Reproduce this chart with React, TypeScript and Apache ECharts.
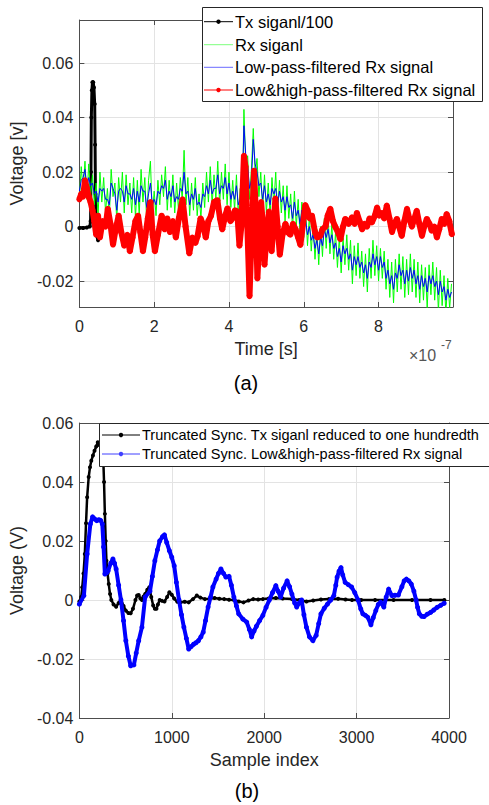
import React, { useEffect, useRef } from 'react';
import * as echarts from 'echarts';

// ---------- (a) top chart: time in units of 1e-7 s ----------
const T_GRID = [
  0, 0.05, 0.1, 0.15, 0.2, 0.25, 0.3, 0.35, 0.4, 0.45, 0.5, 0.55, 0.6, 0.65, 0.7, 0.75, 0.8, 0.85, 0.9, 0.95,
  1, 1.05, 1.1, 1.15, 1.2, 1.25, 1.3, 1.35, 1.4, 1.45, 1.5, 1.55, 1.6, 1.65, 1.7, 1.75, 1.8, 1.85, 1.9, 1.95,
  2, 2.05, 2.1, 2.15, 2.2, 2.25, 2.3, 2.35, 2.4, 2.45, 2.5, 2.55, 2.6, 2.65, 2.7, 2.75, 2.8, 2.85, 2.9, 2.95,
  3, 3.05, 3.1, 3.15, 3.2, 3.25, 3.3, 3.35, 3.4, 3.45, 3.5, 3.55, 3.6, 3.65, 3.7, 3.75, 3.8, 3.85, 3.9, 3.95,
  4, 4.05, 4.1, 4.15, 4.2, 4.25, 4.3, 4.35, 4.4, 4.45, 4.5, 4.55, 4.6, 4.65, 4.7, 4.75, 4.8, 4.85, 4.9, 4.95,
  5, 5.05, 5.1, 5.15, 5.2, 5.25, 5.3, 5.35, 5.4, 5.45, 5.5, 5.55, 5.6, 5.65, 5.7, 5.75, 5.8, 5.85, 5.9, 5.95,
  6, 6.05, 6.1, 6.15, 6.2, 6.25, 6.3, 6.35, 6.4, 6.45, 6.5, 6.55, 6.6, 6.65, 6.7, 6.75, 6.8, 6.85, 6.9, 6.95,
  7, 7.05, 7.1, 7.15, 7.2, 7.25, 7.3, 7.35, 7.4, 7.45, 7.5, 7.55, 7.6, 7.65, 7.7, 7.75, 7.8, 7.85, 7.9, 7.95,
  8, 8.05, 8.1, 8.15, 8.2, 8.25, 8.3, 8.35, 8.4, 8.45, 8.5, 8.55, 8.6, 8.65, 8.7, 8.75, 8.8, 8.85, 8.9, 8.95,
  9, 9.05, 9.1, 9.15, 9.2, 9.25, 9.3, 9.35, 9.4, 9.45, 9.5, 9.55, 9.6, 9.65, 9.7, 9.75, 9.8, 9.85, 9.9, 9.95,
];

const RX_SIGNAL = [
  0.010, 0.022, 0.013, 0.024, 0.010, 0.023, 0.011, 0.019, 0.008, 0.016, 0.004, 0.020, 0.009, 0.018, 0.005, 0.014, 0.003, 0.021, 0.011, 0.016,
  0.002, 0.018, 0.009, 0.020, 0.005, 0.019, 0.008, 0.016, 0.005, 0.018, 0.003, 0.017, 0.004, 0.021, 0.009, 0.018, 0.002, 0.017, 0.024, 0.004,
  0.013, 0.004, 0.017, 0.008, 0.019, 0.011, 0.022, 0.006, 0.017, 0.007, 0.019, 0.005, 0.016, 0.006, 0.018, 0.010, 0.028, 0.008, 0.018, 0.004,
  0.016, 0.006, 0.018, 0.004, 0.012, 0.003, 0.016, 0.007, 0.020, 0.009, 0.022, 0.008, 0.019, 0.010, 0.024, 0.008, 0.020, 0.010, 0.023, 0.008,
  0.020, 0.007, 0.017, 0.006, 0.019, 0.004, 0.014, 0.003, 0.043, 0.022, 0.026, 0.010, 0.021, 0.036, 0.019, 0.025, 0.011, 0.020, 0.006, 0.019,
  0.005, 0.016, 0.004, 0.018, 0.008, 0.020, 0.004, 0.017, 0.005, 0.015, 0.002, 0.015, 0.003, 0.012, -0.001, 0.013, 0.000, 0.010, -0.003, 0.009,
  -0.004, 0.006, -0.007, 0.004, -0.009, 0.001, -0.012, -0.001, -0.014, 0.000, -0.011, 0.003, -0.008, 0.004, -0.010, 0.001, -0.012, -0.002, -0.015, -0.004,
  -0.017, -0.004, -0.014, -0.003, -0.016, -0.005, -0.021, -0.007, -0.018, -0.006, -0.019, -0.009, -0.022, -0.010, -0.024, -0.008, -0.019, -0.005, -0.018, -0.007,
  -0.020, -0.008, -0.019, -0.009, -0.023, -0.012, -0.026, -0.013, -0.028, -0.012, -0.024, -0.010, -0.023, -0.011, -0.026, -0.012, -0.025, -0.010, -0.024, -0.012,
  -0.026, -0.013, -0.028, -0.014, -0.027, -0.015, -0.030, -0.014, -0.025, -0.013, -0.027, -0.015, -0.031, -0.016, -0.029, -0.018, -0.032, -0.019, -0.030, -0.021,
];

const LPF_SIGNAL = [
  0.013, 0.017, 0.018, 0.021, 0.014, 0.018, 0.015, 0.016, 0.012, 0.013, 0.009, 0.014, 0.013, 0.014, 0.010, 0.010, 0.008, 0.016, 0.014, 0.012,
  0.006, 0.013, 0.014, 0.013, 0.009, 0.015, 0.012, 0.012, 0.010, 0.014, 0.008, 0.013, 0.009, 0.015, 0.013, 0.013, 0.007, 0.012, 0.016, 0.008,
  0.010, 0.008, 0.013, 0.012, 0.015, 0.014, 0.017, 0.010, 0.013, 0.011, 0.015, 0.009, 0.011, 0.010, 0.014, 0.013, 0.020, 0.012, 0.013, 0.008,
  0.012, 0.010, 0.014, 0.008, 0.009, 0.007, 0.012, 0.011, 0.015, 0.012, 0.017, 0.012, 0.014, 0.014, 0.019, 0.012, 0.015, 0.014, 0.018, 0.012,
  0.016, 0.010, 0.013, 0.010, 0.015, 0.008, 0.010, 0.009, 0.037, 0.026, 0.022, 0.014, 0.017, 0.032, 0.023, 0.020, 0.015, 0.016, 0.010, 0.015,
  0.009, 0.012, 0.008, 0.014, 0.012, 0.014, 0.008, 0.013, 0.009, 0.011, 0.006, 0.011, 0.007, 0.008, 0.003, 0.009, 0.004, 0.006, 0.001, 0.006,
  0.000, 0.002, -0.003, 0.000, -0.005, -0.003, -0.008, -0.005, -0.010, -0.004, -0.007, -0.001, -0.004, -0.001, -0.006, -0.003, -0.008, -0.006, -0.011, -0.008,
  -0.013, -0.007, -0.010, -0.008, -0.012, -0.010, -0.016, -0.011, -0.014, -0.011, -0.015, -0.013, -0.017, -0.014, -0.019, -0.013, -0.015, -0.010, -0.014, -0.011,
  -0.016, -0.011, -0.015, -0.013, -0.019, -0.016, -0.021, -0.018, -0.023, -0.017, -0.019, -0.014, -0.018, -0.016, -0.021, -0.016, -0.020, -0.015, -0.019, -0.016,
  -0.021, -0.018, -0.023, -0.018, -0.022, -0.019, -0.024, -0.018, -0.021, -0.018, -0.022, -0.020, -0.025, -0.020, -0.024, -0.022, -0.027, -0.023, -0.026, -0.024,
];

const TX_TOP: [number, number][] = [
  [0, -0.0005], [0.1, -0.0005], [0.2, -0.0003], [0.28, 0.0], [0.3, 0.002], [0.31, 0.02],
  [0.32, 0.04], [0.335, 0.05], [0.35, 0.053], [0.37, 0.053], [0.39, 0.051], [0.41, 0.045],
  [0.42, 0.03], [0.43, 0.012], [0.45, -0.003], [0.5, -0.005], [0.55, -0.003],
];

const LHPF_SIGNAL: [number, number][] = [
  [0, 0.010], [0.05, 0.012], [0.1, 0.011], [0.15, 0.017], [0.2, 0.014], [0.25, 0.011],
  [0.3, 0.009], [0.35, 0.006], [0.4, 0.002], [0.45, -0.003], [0.5, 0.004], [0.55, -0.004],
  [0.62, 0.002], [0.7, 0.0], [0.76, 0.0065], [0.83, 0.001], [0.9, -0.0066], [0.97, -0.001],
  [1.05, 0.004], [1.12, -0.002], [1.2, -0.007], [1.28, -0.003], [1.35, -0.009], [1.42, -0.004],
  [1.5, 0.002], [1.57, 0.004], [1.63, -0.002], [1.7, -0.009], [1.76, -0.004], [1.83, 0.003],
  [1.9, 0.009], [1.96, -0.003], [2.02, -0.009], [2.1, -0.003], [2.2, 0.004], [2.28, -0.001],
  [2.35, 0.003], [2.42, -0.002], [2.5, 0.002], [2.58, -0.004], [2.66, 0.003], [2.76, 0.010],
  [2.84, 0.0], [2.94, -0.0098], [3.02, -0.004], [3.1, -0.006], [3.16, -0.0035], [3.24, 0.003],
  [3.3, 0.001], [3.38, -0.004], [3.45, 0.002], [3.52, 0.004], [3.6, 0.009], [3.69, 0.0097],
  [3.76, 0.003], [3.82, -0.001], [3.9, 0.004], [3.96, 0.0067], [4.04, 0.002], [4.09, 0.003],
  [4.16, 0.006], [4.22, 0.0055], [4.28, -0.007], [4.33, 0.0], [4.4, 0.026], [4.44, 0.022],
  [4.48, 0.005], [4.55, -0.0255], [4.6, -0.005], [4.67, 0.0205], [4.71, 0.008], [4.76, -0.019],
  [4.81, -0.005], [4.86, 0.009], [4.9, 0.002], [4.95, -0.014], [5.0, -0.004], [5.07, 0.0055],
  [5.14, -0.009], [5.19, 0.0], [5.24, 0.0103], [5.3, 0.0], [5.36, -0.0103], [5.43, -0.003],
  [5.51, 0.001], [5.57, -0.002], [5.64, -0.003], [5.71, 0.001], [5.78, -0.001], [5.85, -0.004],
  [5.91, -0.0067], [5.98, 0.001], [6.04, 0.0079], [6.1, 0.006], [6.16, 0.003], [6.22, 0.004],
  [6.3, -0.002], [6.36, -0.004], [6.44, -0.0034], [6.5, -0.001], [6.58, 0.0], [6.64, 0.004],
  [6.71, 0.0065], [6.78, 0.002], [6.84, 0.0], [6.91, -0.002], [6.98, -0.0046], [7.05, 0.0],
  [7.11, 0.0028], [7.2, 0.001], [7.29, 0.0034], [7.36, 0.001], [7.42, 0.005], [7.49, 0.002],
  [7.56, -0.001], [7.62, 0.001], [7.69, 0.0], [7.76, 0.003], [7.82, 0.0015], [7.9, 0.004],
  [7.96, 0.007], [8.02, 0.004], [8.09, 0.005], [8.15, 0.003], [8.22, 0.0077], [8.29, 0.003],
  [8.36, -0.002], [8.42, 0.001], [8.49, 0.0028], [8.55, 0.0], [8.62, -0.0034], [8.69, 0.002],
  [8.76, 0.0065], [8.82, 0.003], [8.89, 0.0], [8.96, 0.003], [9.02, 0.0058], [9.09, 0.001],
  [9.16, -0.0034], [9.22, 0.0], [9.29, 0.0028], [9.36, 0.001], [9.42, -0.0015], [9.49, 0.0],
  [9.56, -0.004], [9.62, -0.001], [9.69, 0.0028], [9.76, 0.001], [9.82, 0.0046], [9.89, 0.002],
  [9.96, -0.0028],
];

// ---------- (b) bottom chart: sample index ----------
const TX_SYNC: [number, number][] = [
  [0, -0.0005], [20, 0.001], [31, 0.0043], [45, 0.009], [59, 0.0156], [72, 0.026], [84, 0.0348],
  [101, 0.0417], [115, 0.045], [129, 0.0472], [147, 0.049], [164, 0.0506], [182, 0.052], [199, 0.0535],
  [217, 0.0525], [234, 0.0512], [248, 0.0498], [258, 0.0485], [267, 0.04], [276, 0.0292], [285, 0.02],
  [293, 0.0133], [305, 0.009], [318, 0.0054], [332, 0.002], [346, 0.0], [370, -0.0015], [398, -0.0023],
  [425, -0.001], [450, 0.0003], [478, -0.002], [503, -0.0036], [530, -0.0044], [555, -0.0045],
  [580, -0.003], [607, 0.0], [625, 0.0015], [642, 0.0017], [660, 0.0005], [677, 0.0], [695, 0.0012],
  [712, 0.002], [735, 0.0035], [757, 0.0043], [778, 0.001], [799, -0.0019], [817, -0.003], [834, -0.003],
  [850, -0.0015], [869, 0.0], [895, -0.0003], [921, -0.0005], [950, 0.001], [974, 0.0026], [1000, 0.0018],
  [1026, 0.0005], [1060, -0.0006], [1096, -0.0008], [1140, -0.0006], [1183, -0.0008], [1230, 0.0003],
  [1271, 0.0015], [1310, 0.0008], [1358, 0.0003], [1410, 0.0004], [1463, 0.0007], [1515, 0.0004],
  [1567, 0.0003], [1620, 0.0001], [1672, 0.0], [1725, -0.0005], [1776, -0.0008], [1830, -0.0002],
  [1881, 0.0003], [1935, 0.0002], [1986, 0.0003], [2050, 0.0005], [2126, 0.0007], [2200, 0.0005],
  [2300, 0.0003], [2380, 0.0], [2457, -0.0005], [2530, -0.0002], [2614, 0.0002], [2700, 0.0003],
  [2800, 0.0004], [2880, 0.0002], [2950, 0.0], [3050, 0.0], [3200, 0.0], [3400, 0.0], [3600, 0.0],
  [3800, 0.0], [3950, 0.0],
];

const RX_SYNC: [number, number][] = [
  [0, -0.0014], [49, 0.0015], [84, 0.0156], [119, 0.0258], [143, 0.0282], [165, 0.0275], [188, 0.0269],
  [210, 0.0272], [230, 0.027], [248, 0.0258], [262, 0.018], [276, 0.0088], [295, 0.0092], [311, 0.0099],
  [340, 0.0125], [363, 0.0139], [380, 0.0125], [398, 0.0105], [425, 0.005], [450, 0.0], [478, -0.007],
  [503, -0.0138], [530, -0.019], [555, -0.0223], [590, -0.022], [615, -0.018], [642, -0.0138],
  [677, -0.0092], [712, 0.001], [764, 0.003], [790, 0.008], [817, 0.0133], [845, 0.017], [869, 0.020],
  [900, 0.0215], [921, 0.0221], [945, 0.0195], [974, 0.0167], [1000, 0.0145], [1026, 0.0116],
  [1050, 0.006], [1078, 0.0], [1105, -0.005], [1131, -0.0092], [1158, -0.013], [1183, -0.0166],
  [1210, -0.0158], [1236, -0.015], [1262, -0.0145], [1288, -0.0138], [1315, -0.0125], [1340, -0.0109],
  [1365, -0.007], [1393, -0.0024], [1420, 0.001], [1445, 0.0044], [1480, 0.0071], [1505, 0.009],
  [1532, 0.0105], [1560, 0.009], [1585, 0.0078], [1620, 0.008], [1645, 0.005], [1672, 0.001],
  [1700, -0.002], [1724, -0.0047], [1770, -0.0065], [1811, -0.0075], [1840, -0.010], [1864, -0.0125],
  [1890, -0.0105], [1916, -0.0089], [1950, -0.007], [1986, -0.0052], [2020, -0.0025], [2056, 0.0],
  [2090, 0.0025], [2126, 0.0049], [2150, 0.003], [2178, 0.001], [2210, 0.004], [2248, 0.0065],
  [2275, 0.0045], [2300, 0.002], [2330, -0.001], [2352, -0.0024], [2380, -0.001], [2405, 0.0],
  [2430, -0.005], [2457, -0.0092], [2490, -0.0125], [2527, -0.0138], [2562, -0.012], [2590, -0.008],
  [2614, -0.0047], [2650, -0.0028], [2684, -0.0014], [2720, 0.0], [2754, 0.0015], [2775, 0.005],
  [2789, 0.0077], [2810, 0.0098], [2831, 0.011], [2850, 0.0085], [2876, 0.006], [2910, 0.0052],
  [2946, 0.0044], [2980, 0.0025], [3016, 0.0], [3045, -0.003], [3068, -0.0047], [3095, -0.0052],
  [3120, -0.0058], [3155, -0.0084], [3180, -0.006], [3208, -0.0036], [3235, -0.0015], [3260, -0.0007],
  [3295, -0.0024], [3320, 0.001], [3347, 0.0037], [3382, 0.0015], [3415, 0.0016], [3452, 0.0017],
  [3490, 0.0045], [3515, 0.0065], [3539, 0.0071], [3565, 0.0065], [3592, 0.0054], [3620, 0.003],
  [3644, 0.0], [3660, -0.0025], [3679, -0.0047], [3705, -0.0055], [3731, -0.0056], [3765, -0.0048],
  [3801, -0.0042], [3835, -0.0034], [3871, -0.0025], [3910, -0.0018], [3948, -0.0011],
];

const TOP_LEGEND = ['Tx siganl/100', 'Rx siganl', 'Low-pass-filtered Rx signal', 'Low&high-pass-filtered Rx signal'];
const BOTTOM_LEGEND = ['Truncated Sync. Tx siganl reduced to one hundredth', 'Truncated Sync. Low&high-pass-filtered Rx signal'];

const FONT = '"Liberation Sans", Arial, Helvetica, sans-serif';
const AX = '#4d4d4d';
const TXT = '#262626';
const GRID = '#e3e3e3';

const isMult = (v: number, s: number) => Math.abs(v / s - Math.round(v / s)) < 1e-6;
const fmtNum = (v: number) => {
  const r = Math.round(v * 10000) / 10000;
  return r === 0 ? '0' : String(r);
};

function mainAxisCommon() {
  return {
    axisLine: { show: true, onZero: false, lineStyle: { color: AX, width: 1 } },
    axisTick: { show: true, inside: true, length: 5, lineStyle: { color: AX } },
    splitLine: { show: true, lineStyle: { color: GRID, width: 1 } },
    nameTextStyle: { fontSize: 18, color: TXT, fontFamily: FONT },
  };
}
function mirrorAxis(gridIndex: number, position: string, min: number, max: number, extra: any = {}) {
  return {
    type: 'value', gridIndex, position, min, max, ...extra,
    axisLine: { show: true, onZero: false, lineStyle: { color: AX, width: 1 } },
    axisTick: { show: true, inside: true, length: 5, lineStyle: { color: AX } },
    axisLabel: { show: false },
    splitLine: { show: false },
  };
}

function legendLine(x1: number, x2: number, y: number, color: string, dot: boolean, w = 1) {
  const els: any[] = [
    { type: 'line', z: 101, shape: { x1, y1: y, x2, y2: y }, style: { stroke: color, lineWidth: w } },
  ];
  if (dot) {
    els.push({ type: 'circle', z: 102, shape: { cx: (x1 + x2) / 2, cy: y, r: 2.2 }, style: { fill: color } });
  }
  return els;
}
function legendText(x: number, y: number, text: string, size: number) {
  return {
    type: 'text', z: 102, x, y,
    style: { text, fill: '#000', font: `${size}px ${FONT}`, textVerticalAlign: 'middle', textAlign: 'left' },
  };
}

export default function App() {
  const ref = useRef<HTMLDivElement>(null);
  useEffect(() => {
    const chart = echarts.init(ref.current!, null, { renderer: 'svg' });

    const topColors = ['#000000', '#7dff7d', '#6b6bff', '#ff0000'];
    const topDots = [true, false, false, true];
    const topRows = [21.7, 44.7, 67.3, 90];
    const botRows = [435, 454];
    const botColors = ['#000000', '#4040ff'];

    const graphic: any[] = [
      { type: 'rect', z: 100, shape: { x: 202.5, y: 7.5, width: 280, height: 94 }, style: { fill: '#fff', stroke: '#262626', lineWidth: 1 } },
      { type: 'rect', z: 100, shape: { x: 99.5, y: 423.5, width: 400, height: 43 }, style: { fill: '#fff', stroke: '#262626', lineWidth: 1 } },
      { type: 'text', x: 409, y: 355, style: { text: '×10', fill: '#555', font: `16px ${FONT}`, textVerticalAlign: 'middle' } },
      { type: 'text', x: 441, y: 345, style: { text: '-7', fill: '#555', font: `12px ${FONT}`, textVerticalAlign: 'middle' } },
      { type: 'text', x: 246, y: 383, style: { text: '(a)', fill: '#000', font: `20px ${FONT}`, textAlign: 'center', textVerticalAlign: 'middle' } },
      { type: 'text', x: 247, y: 791, style: { text: '(b)', fill: '#000', font: `20px ${FONT}`, textAlign: 'center', textVerticalAlign: 'middle' } },
    ];
    TOP_LEGEND.forEach((name, i) => {
      graphic.push(...legendLine(204, 233, topRows[i], topColors[i], topDots[i]));
      graphic.push(legendText(235, topRows[i], name, 16.5));
    });
    BOTTOM_LEGEND.forEach((name, i) => {
      graphic.push(...legendLine(102, 140, botRows[i], botColors[i], true));
      graphic.push(legendText(142, botRows[i], name, 14.5));
    });

    const option: any = {
      animation: false,
      backgroundColor: '#fff',
      textStyle: { fontFamily: FONT },
      grid: [
        { left: 78, top: 20, width: 375, height: 287 },
        { left: 67, top: 423, width: 382, height: 295 },
      ],
      xAxis: [
        {
          type: 'value', gridIndex: 0, position: 'bottom', min: 0, max: 9.99, interval: 2,
          ...mainAxisCommon(),
          axisLabel: { fontSize: 16, color: TXT, margin: 11, formatter: (v: number) => (isMult(v, 2) && v < 9.5 ? fmtNum(v) : '') },
          name: 'Time [s]', nameLocation: 'middle', nameGap: 33,
        },
        mirrorAxis(0, 'top', 0, 9.99, { interval: 2 }),
        {
          type: 'value', gridIndex: 1, position: 'bottom', min: 0, max: 4000, interval: 1000,
          ...mainAxisCommon(),
          axisLabel: { fontSize: 16, color: TXT, margin: 11, formatter: (v: number) => fmtNum(v) },
          name: 'Sample index', nameLocation: 'middle', nameGap: 33,
        },
        mirrorAxis(1, 'top', 0, 4000, { interval: 1000 }),
      ],
      yAxis: [
        {
          type: 'value', gridIndex: 0, position: 'left', min: -0.0295, max: 0.0758, splitNumber: 5,
          ...mainAxisCommon(),
          axisLabel: { fontSize: 16, color: TXT, margin: 6, formatter: (v: number) => (isMult(v, 0.02) ? fmtNum(v) : '') },
          name: 'Voltage [v]', nameLocation: 'middle', nameGap: 49,
        },
        mirrorAxis(0, 'right', -0.0295, 0.0758, { splitNumber: 5 }),
        {
          type: 'value', gridIndex: 1, position: 'left', min: -0.04, max: 0.06, interval: 0.02,
          ...mainAxisCommon(),
          axisLabel: { fontSize: 16, color: TXT, margin: 6, formatter: (v: number) => fmtNum(v) },
          name: 'Voltage (V)', nameLocation: 'middle', nameGap: 48,
        },
        mirrorAxis(1, 'right', -0.04, 0.06, { interval: 0.02 }),
      ],
      series: [
        {
          name: TOP_LEGEND[0], type: 'line', xAxisIndex: 0, yAxisIndex: 0,
          data: TX_TOP, symbol: 'circle', symbolSize: 4, showSymbol: true,
          lineStyle: { color: '#000', width: 3 }, itemStyle: { color: '#000' }, z: 2,
        },
        {
          name: TOP_LEGEND[1], type: 'line', xAxisIndex: 0, yAxisIndex: 0,
          data: RX_SIGNAL.map((v, i) => [T_GRID[i], v]), symbol: 'none',
          lineStyle: { color: '#00ff00', width: 1 }, itemStyle: { color: '#00ff00' }, z: 3,
        },
        {
          name: TOP_LEGEND[2], type: 'line', xAxisIndex: 0, yAxisIndex: 0,
          data: LPF_SIGNAL.map((v, i) => [T_GRID[i], v]), symbol: 'none',
          lineStyle: { color: '#0000ff', width: 1 }, itemStyle: { color: '#0000ff' }, z: 4,
        },
        {
          name: TOP_LEGEND[3], type: 'line', xAxisIndex: 0, yAxisIndex: 0,
          data: LHPF_SIGNAL, symbol: 'circle', symbolSize: 6, showSymbol: true,
          lineStyle: { color: '#ff0000', width: 6 }, itemStyle: { color: '#ff0000' }, z: 5,
        },
        {
          name: BOTTOM_LEGEND[0], type: 'line', xAxisIndex: 2, yAxisIndex: 2,
          data: TX_SYNC, symbol: 'circle', symbolSize: 4, showSymbol: true,
          lineStyle: { color: '#000', width: 2.5 }, itemStyle: { color: '#000' }, z: 3,
        },
        {
          name: BOTTOM_LEGEND[1], type: 'line', xAxisIndex: 2, yAxisIndex: 2,
          data: RX_SYNC, symbol: 'circle', symbolSize: 5, showSymbol: true,
          lineStyle: { color: '#0000ff', width: 4 }, itemStyle: { color: '#0000ff' }, z: 4,
        },
      ],
      graphic,
    };
    chart.setOption(option);
    return () => chart.dispose();
  }, []);
  return (
    <div
      ref={ref}
      style={{ position: 'fixed', left: 0, top: 0, width: 489, height: 805, background: '#fff' }}
    />
  );
}
